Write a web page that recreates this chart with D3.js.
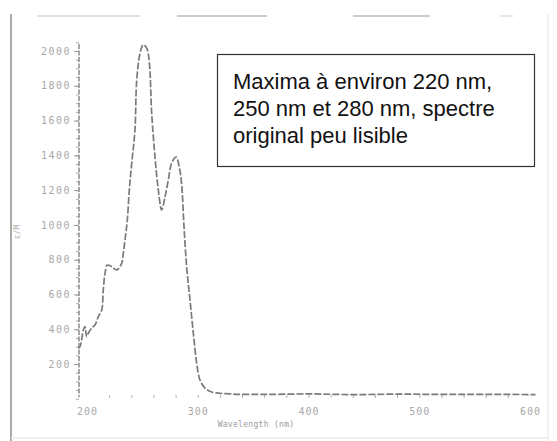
<!DOCTYPE html>
<html>
<head>
<meta charset="utf-8">
<script src="https://cdn.jsdelivr.net/npm/d3@7"></script>
<style>
  body { margin: 0; background: #fff; }
  svg { display: block; }
</style>
</head>
<body>
<svg id="chart" width="557" height="441"></svg>
<script>
// DATA //
// spectrum (wavelength in nm, epsilon)
const wavelengths = [192.1, 193.7, 196.7, 198.2, 199.7, 201.2, 204.2, 207.2, 210.2, 213.3, 214.7, 216.3, 218.3,
  222.3, 226.8, 231.3, 232.8, 234.3, 236.4, 238.2, 240.4, 243.3, 244.9, 247.9, 250.8, 253.9, 256.3, 258.4,
  261.4, 264.4, 267.4, 270.4, 273.4, 276.5, 280.4, 283.3, 285.5, 287.5, 290, 293, 296, 299,
  302, 306.5, 312.6, 330, 360, 400, 440, 480, 520, 560, 605]
const epsilon = [290, 300, 396, 415, 357, 377, 407, 424, 472, 511, 626, 723, 769,
  760, 741, 779, 838, 913, 1028, 1201, 1356, 1546, 1833, 1987, 2035, 2017, 1931, 1643,
  1390, 1201, 1086, 1160, 1258, 1356, 1390, 1333, 1230, 1000, 758, 568, 378, 206,
  108, 62, 39, 28, 25, 28, 24, 27, 25, 26, 24]
const yTicks = [200, 400, 600, 800, 1000, 1200, 1400, 1600, 1800, 2000]
const xTicks = [200, 300, 400, 500, 600]
const noteLines = ["Maxima à environ 220 nm,", "250 nm et 280 nm, spectre", "original peu lisible"]

// DRAW //
const svg = d3.select('#chart')

// scan borders / smudges
svg.append('line').attr('x1', 11).attr('x2', 11).attr('y1', 14).attr('y2', 441)
  .attr('stroke', '#aaa').attr('stroke-width', 2)
svg.append('line').attr('x1', 548).attr('x2', 548).attr('y1', 14).attr('y2', 441)
  .attr('stroke', '#f2f2f2').attr('stroke-width', 2)
svg.append('line').attr('x1', 11).attr('x2', 548).attr('y1', 438).attr('y2', 438)
  .attr('stroke', '#ececec').attr('stroke-width', 1.5)
const smudges = [[37, 140, '#e0e0e0'], [177, 267, '#cdcdcd'], [353, 430, '#cdcdcd'], [500, 513, '#e6e6e6']]
smudges.forEach(s => {
  svg.append('line').attr('x1', s[0]).attr('x2', s[1]).attr('y1', 16).attr('y2', 16)
    .attr('stroke', s[2]).attr('stroke-width', 2)
})

let x = d3.scaleLinear().domain([200, 600]).range([87, 530])
let y = d3.scaleLinear().domain([0, 2000]).range([398.8, 51])

// y axis
const yAxis = svg.append('g')
  .attr('transform', 'translate(79,0)')
  .call(d3.axisLeft(y).tickValues(d3.range(0, 2051, 50)).tickSize(3).tickFormat(''))
yAxis.select('.domain').remove()
yAxis.selectAll('line').attr('stroke', '#aaa')
svg.append('line').attr('x1', 79).attr('x2', 79).attr('y1', 44).attr('y2', 397)
  .attr('stroke', '#8a8a8a').attr('stroke-width', 1.5).attr('stroke-dasharray', '5,1.5')

const yLab = svg.append('g')
  .attr('transform', 'translate(79,0)')
  .call(d3.axisLeft(y).tickValues(yTicks).tickSize(5).tickPadding(3).tickFormat(d3.format('d')))
yLab.select('.domain').remove()
yLab.selectAll('line').attr('stroke', '#999')
yLab.selectAll('text').attr('fill', '#a8a8a8')
  .style('font-family', 'DejaVu Sans Mono').style('font-size', '10px').style('letter-spacing', '1.5px')

// y title (faint)
svg.append('text').attr('transform', 'translate(20,232) rotate(-90)')
  .attr('text-anchor', 'middle').attr('fill', '#b5b5b5')
  .style('font-family', 'DejaVu Sans Mono').style('font-size', '8px').text('ε/M')

// x axis: faint minor ticks along the baseline, labels below
const xMinor = svg.append('g')
  .attr('transform', 'translate(0,398)')
  .call(d3.axisBottom(x).tickValues(d3.range(220, 600, 20)).tickSize(-3).tickFormat(''))
xMinor.select('.domain').remove()
xMinor.selectAll('line').attr('stroke', '#b0b0b0')

const xLab = svg.append('g')
  .attr('transform', 'translate(0,398)')
  .call(d3.axisBottom(x).tickValues(xTicks).tickSize(0).tickPadding(10))
xLab.select('.domain').remove()
xLab.selectAll('text').attr('fill', '#a8a8a8')
  .style('font-family', 'DejaVu Sans Mono').style('font-size', '10px').style('letter-spacing', '1px')

svg.append('text').attr('x', 256).attr('y', 427).attr('text-anchor', 'middle')
  .attr('fill', '#9a9a9a').style('font-family', 'DejaVu Sans Mono')
  .style('font-size', '8px').style('letter-spacing', '0.3px').text('Wavelength (nm)')

// spectrum
const line = d3.line()
  .x((d, i) => x(wavelengths[i]))
  .y((d, i) => y(epsilon[i]))
  .curve(d3.curveCatmullRom)

svg.append('path')
  .datum(epsilon)
  .attr('d', line)
  .attr('fill', 'none')
  .attr('stroke', '#7a7a7a')
  .attr('stroke-width', 1.7)
  .attr('stroke-dasharray', '7,2')

// note box
svg.append('rect').attr('x', 217.5).attr('y', 54.5).attr('width', 317).attr('height', 112)
  .attr('fill', '#fff').attr('stroke', '#333').attr('stroke-width', 1.2)

svg.append('text').attr('x', 233).attr('y', 89)
  .style('font-family', 'Liberation Sans, Arial, sans-serif').style('font-size', '22px')
  .attr('fill', '#111')
  .selectAll('tspan').data(noteLines).enter().append('tspan')
  .attr('x', 233).attr('dy', (d, i) => i === 0 ? 0 : 27)
  .text(d => d)
</script>
</body>
</html>
